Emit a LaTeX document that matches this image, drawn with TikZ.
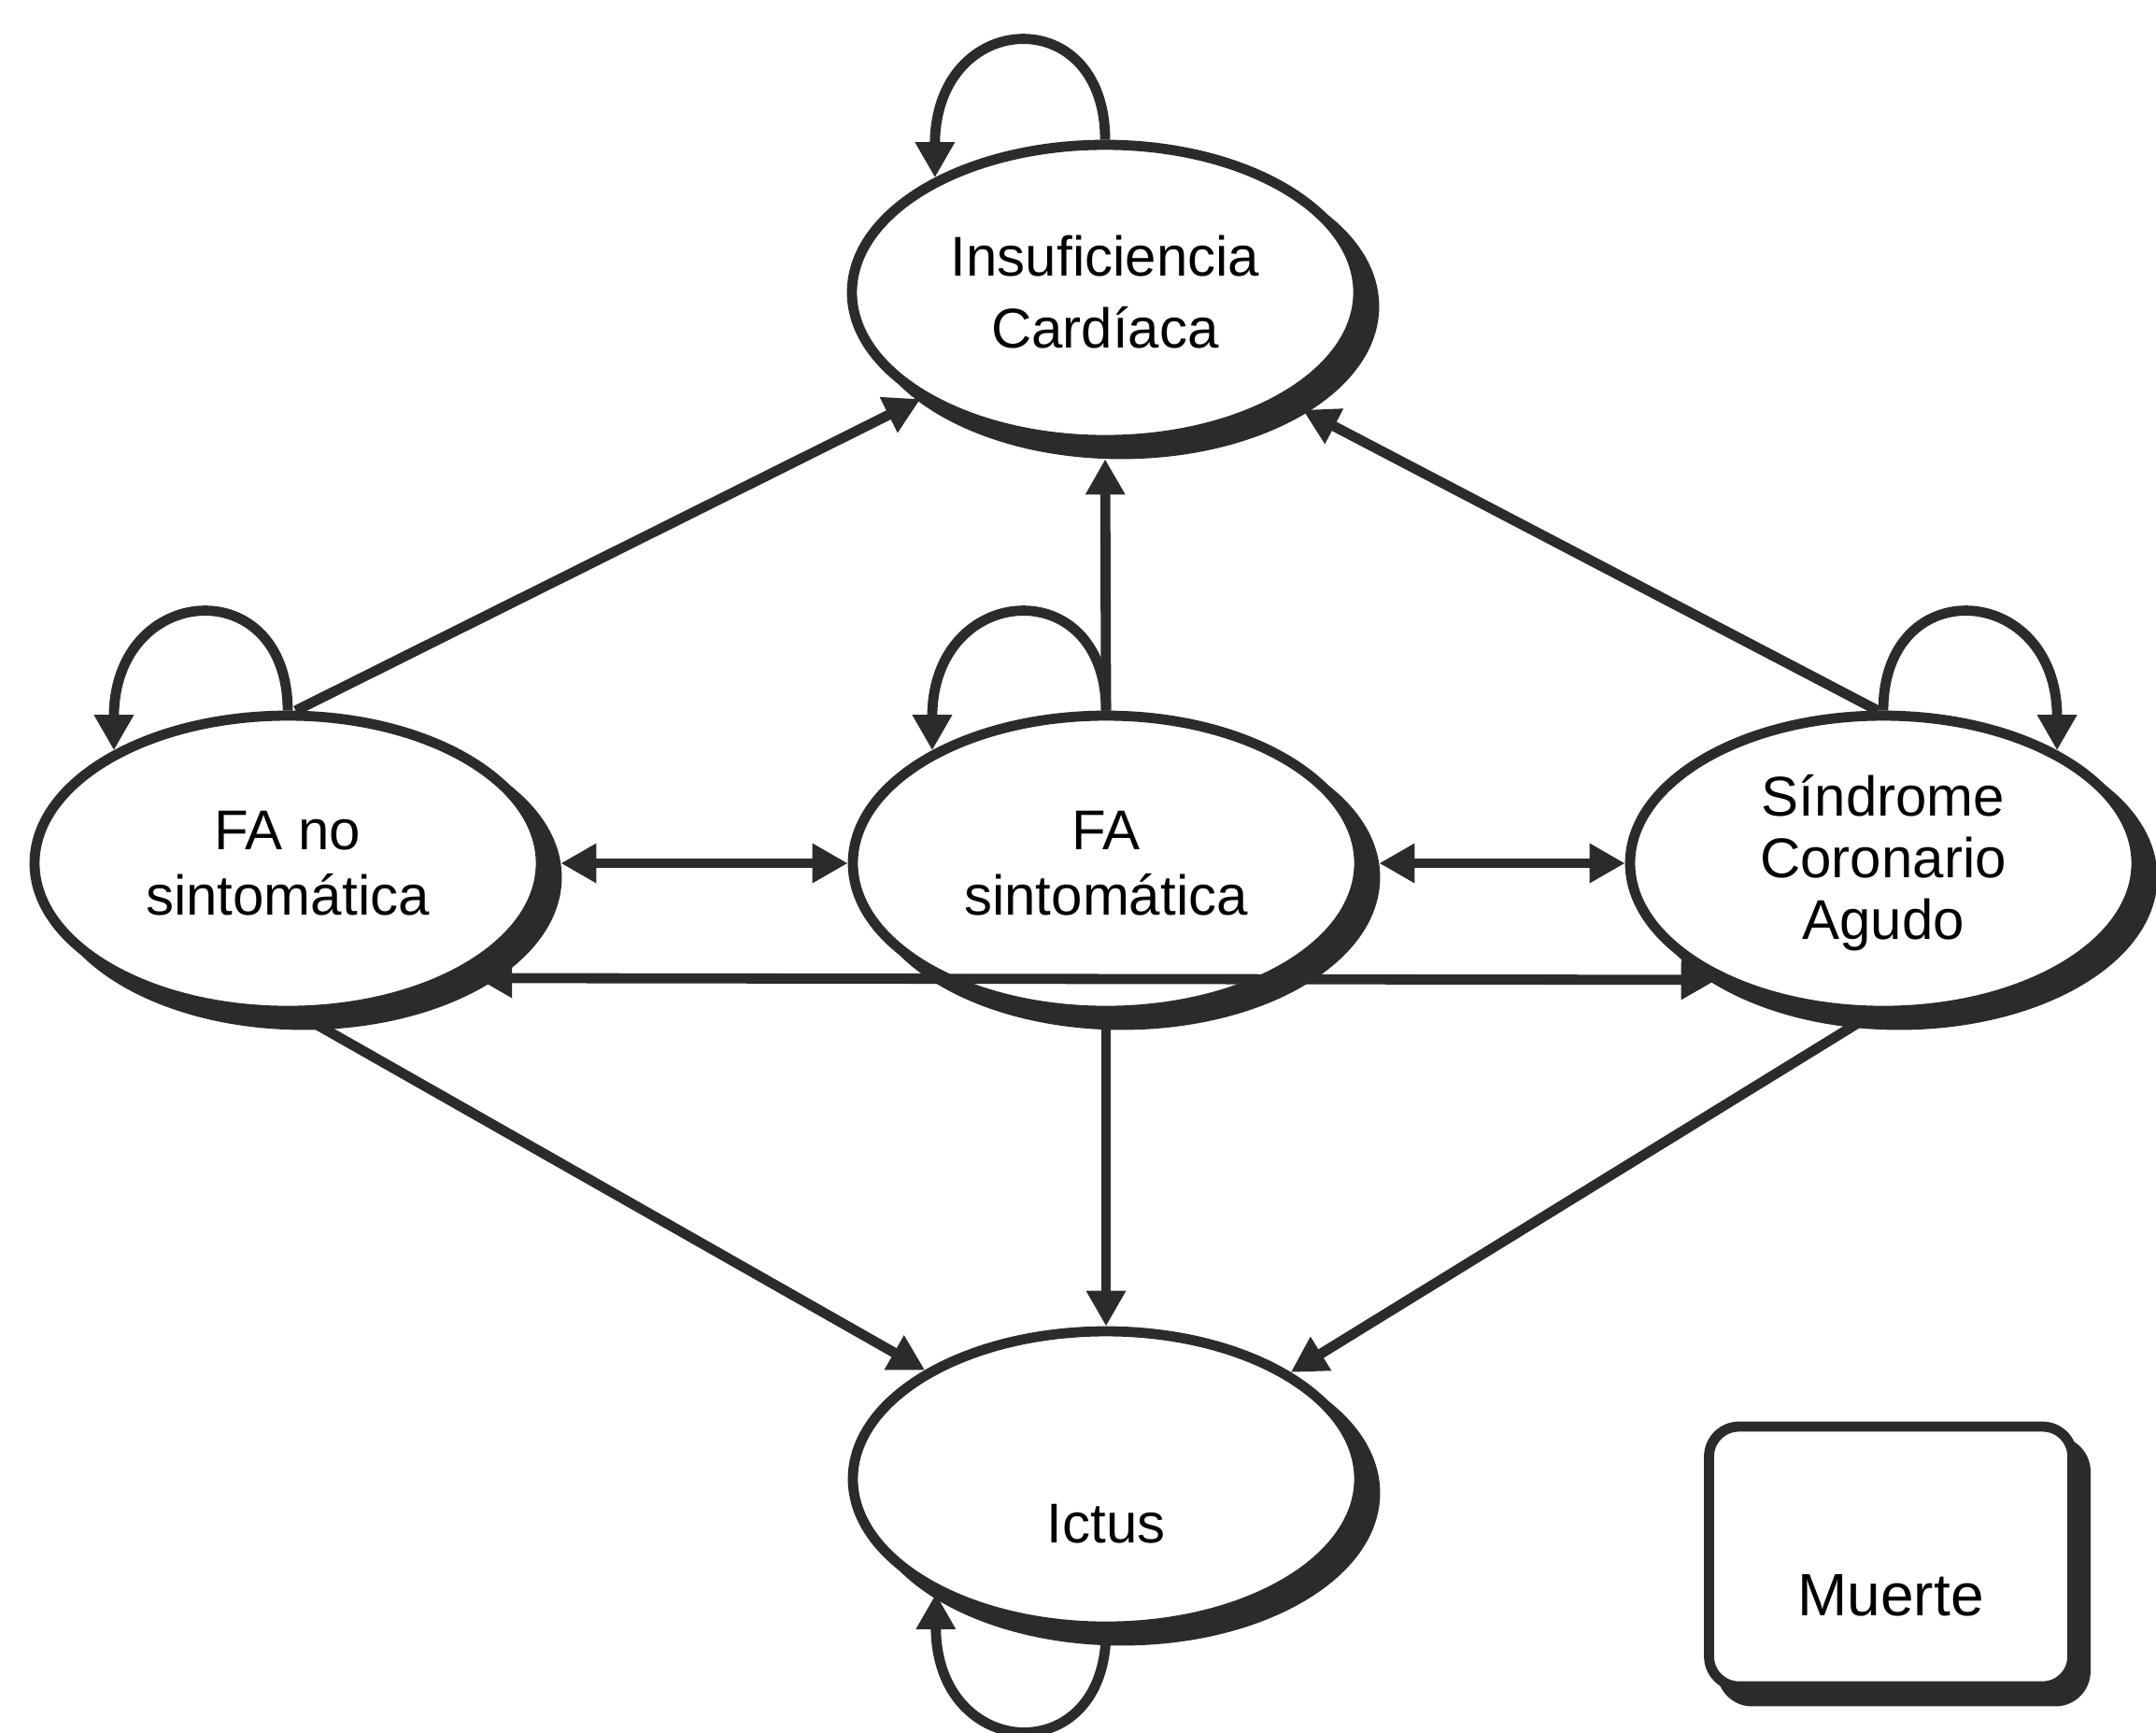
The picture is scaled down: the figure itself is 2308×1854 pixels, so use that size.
\documentclass[tikz,border=0pt]{standalone}
\usepackage{fontspec}
\setmainfont{Liberation Sans}
\usetikzlibrary{arrows.meta,shapes.geometric,shadows}
\definecolor{ink}{HTML}{2B2B2B}
\begin{document}
\begin{tikzpicture}[x=0.25pt,y=0.25pt,
  state/.style={ellipse, draw=ink, line width=2.7pt, fill=white,
    minimum width=135.5pt, minimum height=79pt, inner sep=0pt, align=center,
    font=\fontsize{15pt}{17.5pt}\selectfont,
    drop shadow={shadow xshift=4.25pt, shadow yshift=-3.75pt, fill=ink, draw=ink, opacity=1}},
  endbox/.style={rectangle, rounded corners=8pt, draw=ink, line width=2.7pt, fill=white,
    minimum width=97.25pt, minimum height=69.5pt, inner sep=0pt,
    font=\fontsize{16pt}{19pt}\selectfont, text height=32.5pt, text depth=0.6pt,
    drop shadow={shadow xshift=3.5pt, shadow yshift=-4pt, fill=ink, draw=ink, opacity=1}},
  conn/.style={draw=ink, line width=2.7pt, -{Triangle[length=9.5pt,width=10pt]}},
  both/.style={draw=ink, line width=2.7pt, {Triangle[length=9.5pt,width=10pt]}-{Triangle[length=9.5pt,width=10pt]}}
]
\useasboundingbox (0,0) rectangle (2308,-1854);

\node[state, font=\fontsize{15pt}{19.25pt}\selectfont] (ic) at (1183,-313) {Insuficiencia\\Cardíaca};
\node[state] (fano) at (308,-924) {FA no\\sintomática};
\node[state] (fasint) at (1184,-924) {FA\\sintomática};
\node[state, font=\fontsize{15pt}{16.5pt}\selectfont] (sca) at (2016,-924) {Síndrome\\Coronario\\Agudo};
\node[state, text height=35pt, text depth=0.7pt] (ictus) at (1184,-1583) {Ictus};
\node[endbox] (muerte) at (2024,-1666) {Muerte};

% self loops
\draw[conn] (ic.north) .. controls +(0,150) and +(0,180) .. (ic.146);
\draw[conn] (fano.north) .. controls +(0,150) and +(0,180) .. (fano.147);
\draw[conn] (fasint.north) .. controls +(0,150) and +(0,180) .. (fasint.147);
\draw[conn] (sca.north) .. controls +(0,150) and +(0,180) .. (sca.33);
\draw[conn] (ictus.south) .. controls +(0,-150) and +(0,-180) .. (ictus.214);

% towards Insuficiencia Cardiaca
\draw[conn] (fano.87) -- (ic.210);
\draw[conn, shorten >=3.75pt] (fasint.north) -- (ic.south);
\draw[conn, shorten >=5pt] (sca.92) -- (ic.-31);

% horizontal links
\draw[both, shorten <=4pt] (fano.east) -- (fasint.west);
\draw[both, shorten <=4pt] (fasint.east) -- (sca.west);
\draw[both, shorten <=5pt] (fano.-34.3) -- (sca.-145.7);

% towards Ictus
\draw[conn] (fano.-85) -- (ictus.149.3);
\draw[conn] (fasint.south) -- (ictus.north);
\draw[conn] (sca.-95) -- (ictus.30.1);
\end{tikzpicture}
\end{document}
